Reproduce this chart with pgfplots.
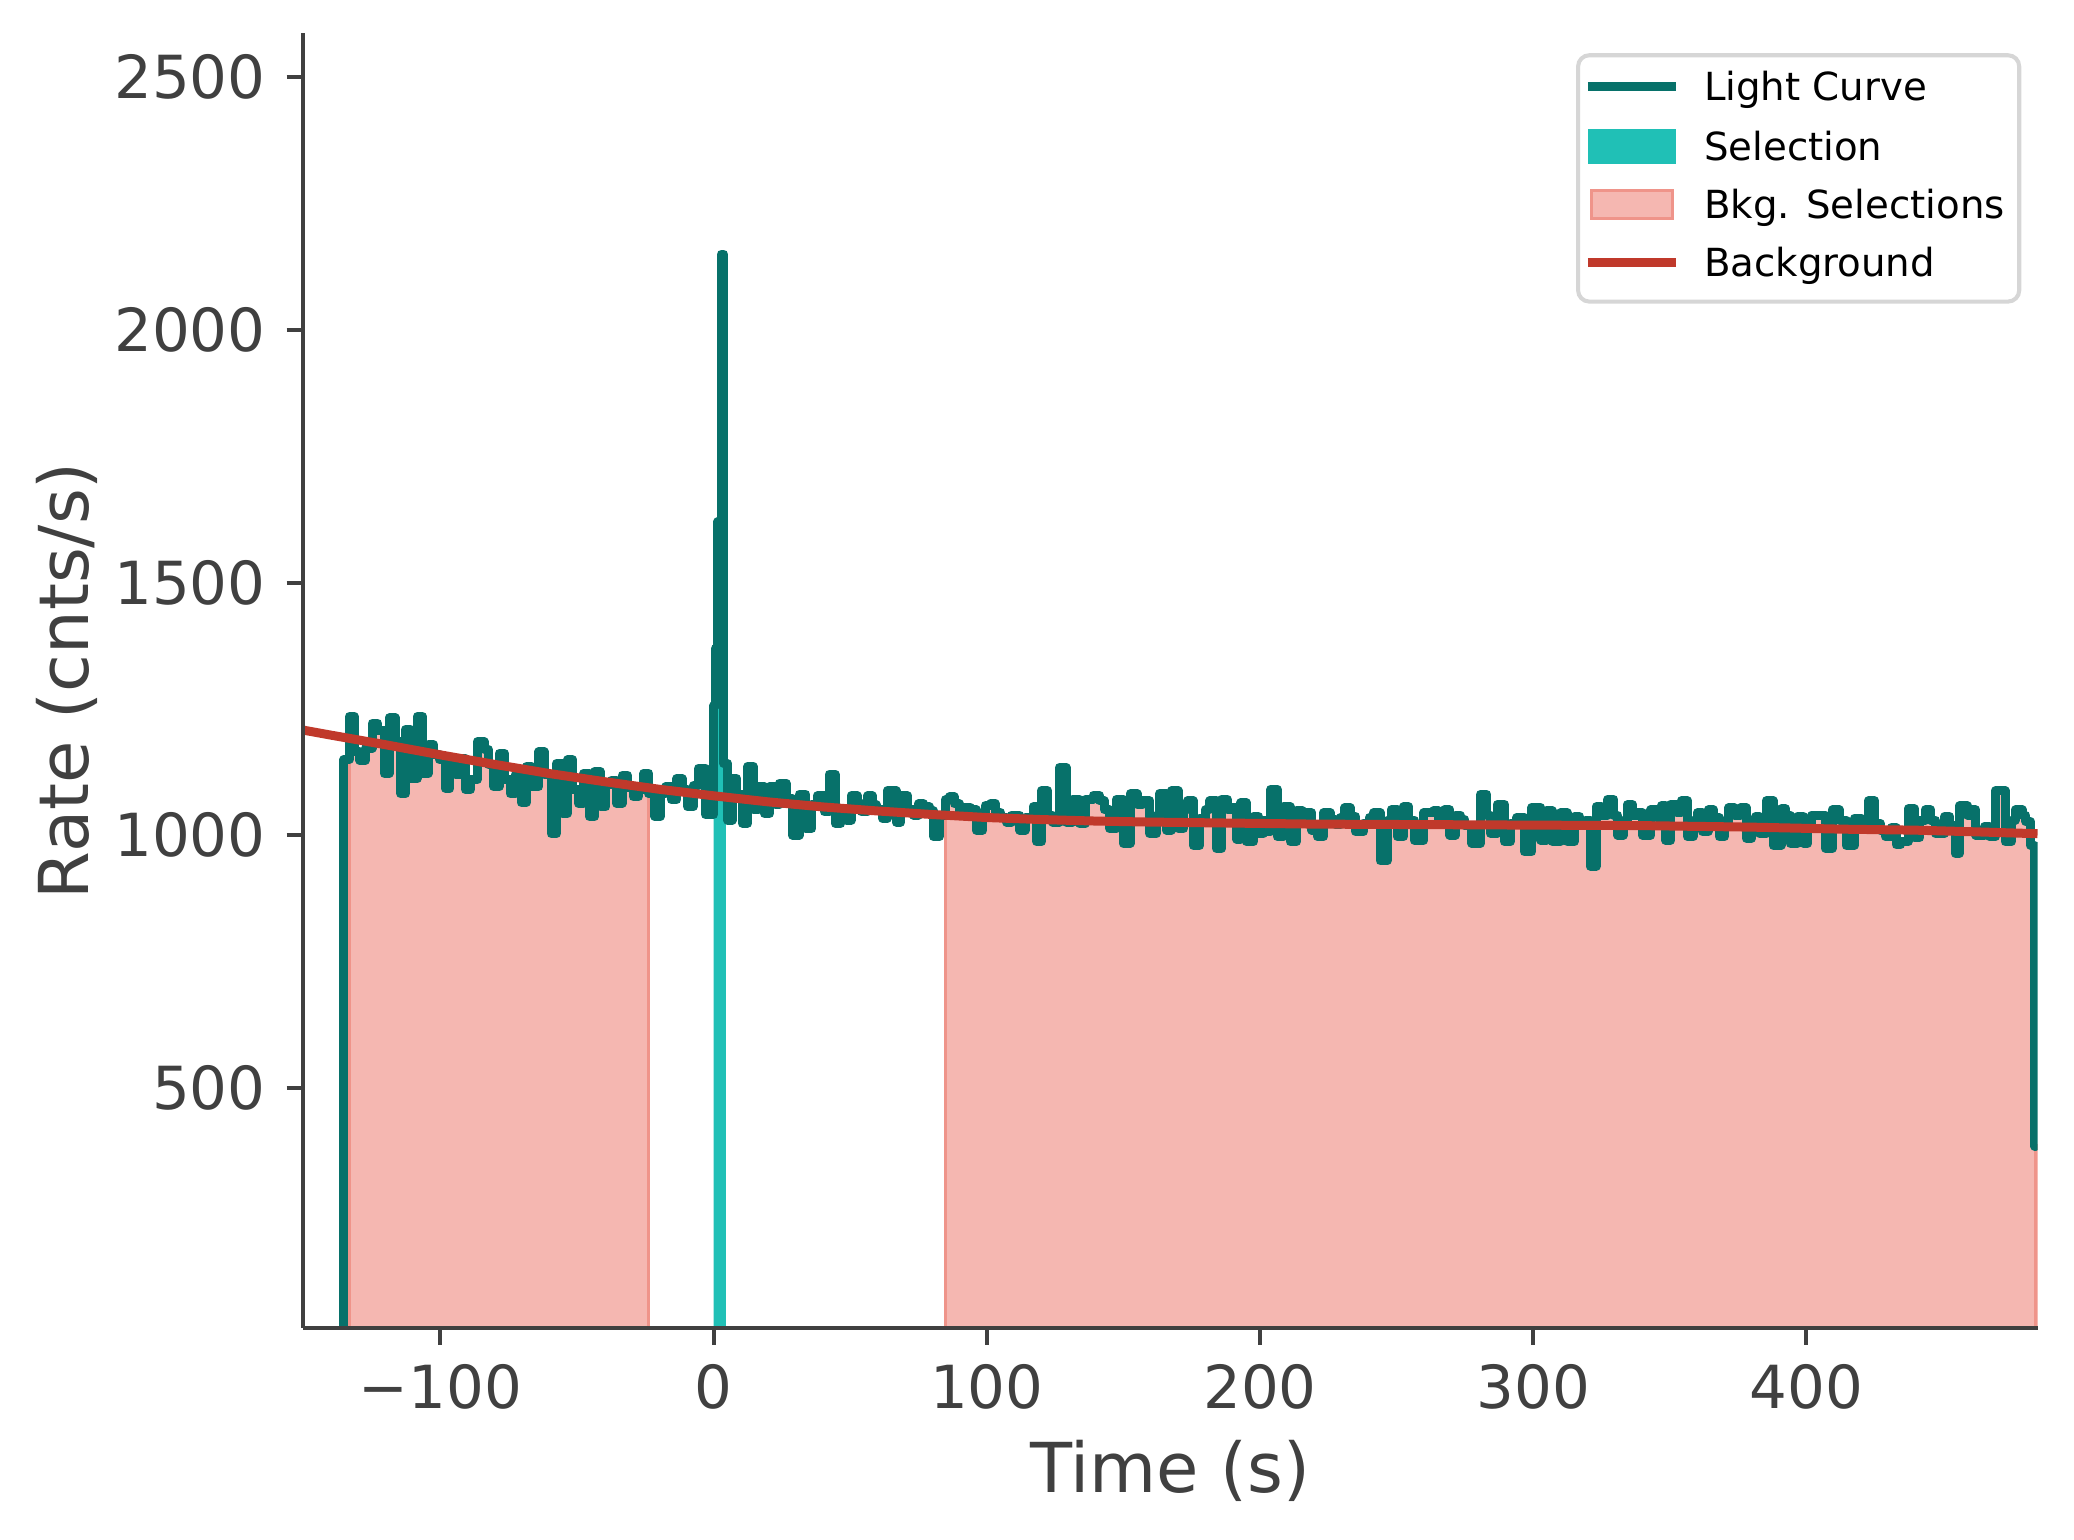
\documentclass[border=0pt]{standalone}
\usepackage{fontspec}
\setmainfont{DejaVu Sans}
\usepackage{pgfplots}
\usepackage{pgfplotstable}
\pgfplotsset{compat=1.18}
\definecolor{lccol}{HTML}{07716A}
\definecolor{selc}{HTML}{20C0B6}
\definecolor{bkgfill}{HTML}{F5B7B1}
\definecolor{bkgedge}{HTML}{EF948A}
\definecolor{bgline}{HTML}{C0392B}
\definecolor{txt}{HTML}{404040}
\definecolor{legframe}{HTML}{D6D6D6}
% light curve: bin start time (s), rate (cnts/s)
\pgfplotstableread[row sep=\\]{
t r\\
-137 0\\ -135.3 1150\\ -133.3 1235\\ -131.5 1165\\ -129.5 1148\\ -127.5 1172\\ -125 1222\\ -123 1208\\ -120.5 1122\\ -118.8 1232\\
-116.5 1185\\ -114.5 1082\\ -112.8 1209\\ -110.8 1112\\ -108.5 1235\\ -106.5 1122\\ -104.5 1179\\ -102.5 1160\\ -100.5 1150\\ -98.3 1093\\
-96.5 1142\\ -94.5 1120\\ -92.8 1152\\ -90.8 1090\\ -89 1110\\ -86.5 1185\\ -84 1170\\ -82.5 1140\\ -80.5 1096\\ -78.5 1162\\
-76.5 1110\\ -74.5 1082\\ -72.5 1120\\ -70.5 1065\\ -68.5 1136\\ -66.5 1096\\ -64 1165\\ -62 1120\\ -59.5 1003\\ -57.5 1142\\
-55.5 1043\\ -53.5 1149\\ -51.5 1090\\ -49.5 1063\\ -47.5 1123\\ -45.5 1037\\ -43.5 1126\\ -41.5 1056\\ -39.5 1100\\ -37.5 1109\\
-35.5 1063\\ -33.5 1119\\ -31.5 1095\\ -29.5 1076\\ -27.5 1090\\ -25.5 1123\\ -23.8 1082\\ -21.5 1037\\ -19.5 1082\\ -17.5 1096\\
-15.5 1070\\ -13.5 1112\\ -11.5 1090\\ -9.5 1056\\ -7.5 1098\\ -5.5 1133\\ -3 1041\\ 0 1256\\ 0.6 1370\\ 1.5 1620\\
2.7 2150\\ 3.7 1142\\ 4.5 1142\\ 5.2 1030\\ 6.8 1112\\ 8.5 1080\\ 10.5 1024\\ 12.5 1136\\ 14.5 1050\\ 16.5 1096\\ 18.5 1043\\
20.5 1096\\ 22.5 1060\\ 24 1103\\ 26.5 1072\\ 28.9 1000\\ 31.3 1081\\ 33.8 1013\\ 36 1060\\ 38 1078\\ 40.5 1046\\
42.3 1121\\ 44.5 1023\\ 46.6 1040\\ 48.5 1030\\ 50.3 1078\\ 52.5 1062\\ 54 1046\\ 56.4 1078\\ 58 1060\\ 59.5 1050\\
61.9 1033\\ 63.5 1088\\ 66.8 1026\\ 68.5 1078\\ 71 1050\\ 73 1040\\ 75 1062\\ 77 1056\\ 79 1048\\ 80.5 997\\
82.7 1040\\ 84.8 1070\\ 86.3 1076\\ 88 1062\\ 90 1040\\ 92 1055\\ 94 1050\\ 96.1 1010\\ 98.5 1040\\ 99.5 1059\\
101.5 1063\\ 103 1045\\ 105 1036\\ 107.2 1026\\ 109 1040\\ 112 1010\\ 114 1035\\ 116.9 1056\\ 118.3 987\\ 120 1088\\
122.3 1040\\ 124.2 1026\\ 126.6 1134\\ 129 1026\\ 131.5 1071\\ 134 1023\\ 136 1071\\ 138.9 1079\\ 141.3 1068\\ 143 1050\\
145 1013\\ 147.4 1071\\ 149.9 984\\ 152.5 1082\\ 155 1060\\ 157 1068\\ 159.6 1003\\ 162 1040\\ 163.3 1083\\ 165.8 1010\\
167.6 1088\\ 170 1013\\ 172 1050\\ 173.5 1068\\ 175.5 980\\ 178 1034\\ 180 1050\\ 181.6 1068\\ 184 974\\ 186 1071\\
188 1050\\ 190 1055\\ 191.5 992\\ 193 1064\\ 195 987\\ 197.6 1037\\ 199.5 1003\\ 201.2 1030\\ 202.5 1007\\ 204 1091\\
206.3 997\\ 208.6 1056\\ 211 987\\ 213.4 1048\\ 215.5 1030\\ 217.1 1044\\ 219 1010\\ 221 997\\ 223.2 1044\\ 225.7 1031\\
227.5 1021\\ 229.3 1035\\ 231 1054\\ 233 1037\\ 235 1007\\ 237.9 1024\\ 240 1035\\ 241.5 1044\\ 244 949\\ 246.5 1030\\
248 1050\\ 250.3 997\\ 252.5 1056\\ 254.5 1030\\ 256.5 990\\ 260 1044\\ 263.5 1048\\ 265.5 1030\\ 267.5 1050\\ 269.5 1000\\
271.5 1040\\ 273.3 1031\\ 275 1020\\ 277.5 984\\ 280.7 1081\\ 283 1040\\ 284.3 1004\\ 286.8 1061\\ 289.5 987\\ 291.6 1024\\
294 1035\\ 296.7 967\\ 299.5 1055\\ 302.8 990\\ 305 1048\\ 307 987\\ 310 1044\\ 312.4 987\\ 315 1037\\ 317 1020\\
319 1030\\ 320.8 939\\ 323 1056\\ 325 1040\\ 327.3 1071\\ 329.5 1040\\ 331 1000\\ 333 1030\\ 334.4 1060\\ 336.5 1040\\
338.3 1044\\ 340 1000\\ 343 1050\\ 345 1035\\ 346.8 1058\\ 348.5 990\\ 350.3 1061\\ 352.5 1045\\ 354.2 1068\\ 356.5 997\\
358.5 1030\\ 360 1044\\ 362 1007\\ 364 1050\\ 366 1035\\ 368 997\\ 370 1025\\ 371.5 1054\\ 373.5 1040\\ 376 1054\\
378 994\\ 380 1030\\ 381.5 1037\\ 383 1003\\ 385.3 1068\\ 387.8 980\\ 390.7 1052\\ 392.5 1040\\ 394 984\\ 396.8 1037\\
399 984\\ 400.5 1024\\ 402 1040\\ 404.5 1040\\ 407 974\\ 409.5 1050\\ 412 1030\\ 414.5 980\\ 417.6 1034\\ 420 1015\\
422.7 1068\\ 425 1024\\ 427 1010\\ 429 997\\ 431 1015\\ 432.8 981\\ 434.5 987\\ 437.2 1052\\ 439.6 995\\ 441.5 1030\\
443.5 1050\\ 445.5 1030\\ 447.3 1003\\ 450.6 1037\\ 452.5 1020\\ 454.5 964\\ 456 1058\\ 459 1040\\ 460.5 1050\\ 462 1000\\
465.3 1018\\ 467 997\\ 469.2 1088\\ 472.7 987\\ 475 1030\\ 476.5 1050\\ 479 1040\\ 480.3 1027\\ 482 980\\ 483.6 385\\
484 385\\
}\lctable
\begin{document}
\begin{tikzpicture}
\begin{axis}[
  scale only axis, width=385.4bp, height=287.7bp,
  xmin=-150.2, xmax=484.6, ymin=25, ymax=2587,
  set layers, axis on top,
  axis x line*=bottom, axis y line*=left,
  axis line style={draw=txt, line width=0.9bp},
  tick align=outside, major tick length=3.7bp,
  every tick/.style={draw=txt, line width=0.9bp},
  xtick={-100,0,100,200,300,400},
  xticklabels={−100,0,100,200,300,400},
  ytick={500,1000,1500,2000,2500},
  yticklabels={500,1000,1500,2000,2500},
  xticklabel style={font=\fontsize{13.2bp}{15bp}\selectfont, text=txt, anchor=base, inner sep=0pt, yshift=-14.3bp},
  yticklabel style={font=\fontsize{13.2bp}{15bp}\selectfont, text=txt, anchor=east, inner sep=0pt, xshift=-4.5bp},
  xlabel={Time (s)}, ylabel={Rate (cnts/s)},
  every axis x label/.style={at={(rel axis cs:0.5,0)}, anchor=base, yshift=-36.6bp, font=\fontsize{15.3bp}{18bp}\selectfont, text=txt},
  every axis y label/.style={at={(rel axis cs:0,0.5)}, xshift=-47.8bp, rotate=90, anchor=base, font=\fontsize{15.3bp}{18bp}\selectfont, text=txt},
  legend cell align=left,
  legend style={at={(rel axis cs:0.9906,0.9846)}, anchor=north east, draw=legframe, line width=0.9bp, rounded corners=2.5bp, fill=white, inner xsep=1.2bp, inner ysep=3.6bp, row sep=4.3bp, column sep=5.2bp, font=\fontsize{8.6bp}{10bp}\selectfont, nodes={inner sep=0pt, text height=6.5bp, text depth=2.0bp}, cells={anchor=west}},
]
\addlegendimage{legend image code/.code={\draw[lccol, line width=2bp] (0bp,0.9bp) -- (19.6bp,0.9bp);}}
\addlegendentry{Light Curve}
\addlegendimage{legend image code/.code={\fill[selc, rounded corners=0pt] (0.5bp,-2.55bp) rectangle (19.1bp,4.35bp);}}
\addlegendentry{Selection}
\addlegendimage{legend image code/.code={\filldraw[fill=bkgfill, draw=bkgedge, line width=0.7bp, rounded corners=0pt] (0.8bp,-2.2bp) rectangle (18.8bp,4.0bp);}}
\addlegendentry{Bkg. Selections\hspace*{2bp}}
\addlegendimage{legend image code/.code={\draw[bgline, line width=2bp] (0bp,0.9bp) -- (19.6bp,0.9bp);}}
\addlegendentry{Background}

% background selections and source selection (filled under the light curve)
\addplot[const plot, fill=bkgfill, draw=bkgedge, line width=0.8bp, restrict x to domain=-133.3:-23.8, forget plot] table[x=t, y=r] {\lctable} \closedcycle;
\addplot[const plot, fill=bkgfill, draw=bkgedge, line width=0.8bp, restrict x to domain=84.8:484.6, forget plot] table[x=t, y=r] {\lctable} \closedcycle;
\addplot[const plot, fill=selc, draw=none, restrict x to domain=0:4.5, forget plot] table[x=t, y=r] {\lctable} \closedcycle;

% light curve
\addplot[const plot, draw=lccol, line width=2bp, line join=round, line cap=round, forget plot] table[x=t, y=r] {\lctable};

% background model
\addplot[draw=bgline, line width=2bp, forget plot] coordinates {
(-150.2,1208) (-140,1198) (-120,1179) (-100,1159) (-80,1140) (-60,1122) (-40,1106) (-20,1091) (0,1078) (20,1066)
(40,1056) (60,1048) (80,1041) (100,1035) (120,1031) (140,1028) (160,1026) (190,1024) (220,1022) (260,1021)
(300,1020) (340,1019) (380,1016) (413,1012) (440,1010) (460,1007) (484.6,1003)
};
\end{axis}
\pgfresetboundingbox
\path (-67.4bp,-47.1bp) rectangle (393.5bp,295.1bp);
\end{tikzpicture}
\end{document}
